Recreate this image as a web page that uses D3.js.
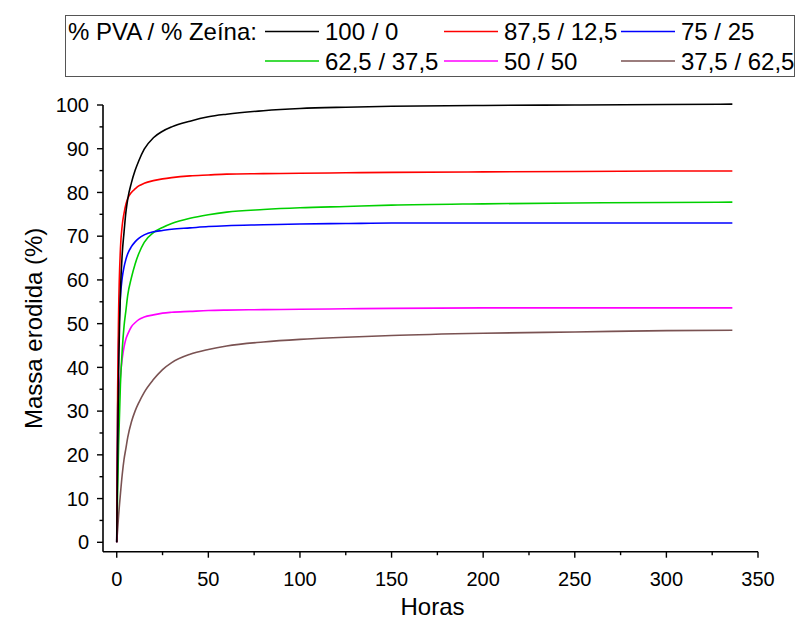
<!DOCTYPE html>
<meta charset="utf-8">
<script src="https://d3js.org/d3.v7.min.js"></script>
<style>
  body { margin: 0; background: #fff; }
  text { font-family: "Liberation Sans", Arial, sans-serif; fill: #000; }
</style>
<div id="my_dataviz"></div>
<script>
// time points (hours) shared by all curves
var horas = [0, 0.5, 1, 2, 3, 4, 5, 6, 8, 10, 12, 15, 20, 25, 30, 40, 50, 60, 80, 100, 125, 150, 200, 250, 300, 336];

// mass eroded (%) for each PVA / Zein ratio
var pva100 = [0, 22, 38, 57, 66, 71, 75.5, 78.5, 82.2, 85, 87.2, 89.9, 92.5, 94, 95, 96.3, 97.3, 97.9, 98.7, 99.2, 99.5, 99.7, 99.9, 100, 100.1, 100.2];
var pva87 = [0, 35, 52, 67, 72.5, 75.3, 77.3, 78.6, 80, 80.8, 81.5, 82.1, 82.7, 83.1, 83.4, 83.8, 84, 84.2, 84.3, 84.4, 84.5, 84.6, 84.7, 84.8, 84.9, 84.9];
var pva75 = [0, 30, 45, 56, 60.5, 63, 64.7, 66, 67.6, 68.7, 69.5, 70.3, 71, 71.3, 71.6, 71.9, 72.2, 72.4, 72.6, 72.8, 72.9, 73, 73, 73, 73, 73];
var pva62 = [0, 12, 22, 36, 44, 49.5, 53, 56.5, 60.5, 63.6, 66, 68.6, 70.8, 72, 72.9, 74.1, 74.9, 75.5, 76.1, 76.5, 76.8, 77.1, 77.4, 77.6, 77.7, 77.8];
var pva50 = [0, 20, 30, 38, 42, 44.7, 46.5, 47.6, 49.3, 50.2, 50.9, 51.5, 52, 52.4, 52.6, 52.8, 53, 53.1, 53.2, 53.3, 53.4, 53.5, 53.6, 53.6, 53.6, 53.6];
var pva37 = [0, 3, 6, 11, 15.5, 19, 21.5, 24, 27.5, 30, 31.9, 34.3, 37.2, 39.5, 41.1, 43, 44.1, 44.9, 45.8, 46.4, 46.9, 47.3, 47.8, 48.1, 48.4, 48.5];

var labels = ["100 / 0", "87,5 / 12,5", "75 / 25", "62,5 / 37,5", "50 / 50", "37,5 / 62,5"];
var colors = ["#000000", "#ff0000", "#0000ff", "#00d000", "#ff00ff", "#7a5252"];
var seriesValues = [pva100, pva87, pva75, pva62, pva50, pva37];

var xTicks = [0, 50, 100, 150, 200, 250, 300, 350];
var yTicks = [0, 10, 20, 30, 40, 50, 60, 70, 80, 90, 100];

var W = 798, H = 621;

var svg = d3.select("#my_dataviz")
  .append("svg")
    .attr("width", W)
    .attr("height", H);

// scales (axes start a bit before zero, like Origin does)
var x = d3.scaleLinear().domain([-7.5, 350]).range([103, 758]);
var y = d3.scaleLinear().domain([-2.15, 100]).range([551.7, 105]);

// minor ticks
var xMinor = d3.range(25, 350, 50);
var yMinor = d3.range(5, 100, 10);

var xAxis = svg.append("g")
  .attr("transform", "translate(0," + y.range()[0] + ")");
xAxis.append("line")
  .attr("x1", x.range()[0]).attr("x2", x.range()[1])
  .attr("stroke", "#000").attr("stroke-width", 1.6);
xAxis.selectAll(".maj").data(xTicks).enter().append("line")
  .attr("x1", function(d) { return x(d); }).attr("x2", function(d) { return x(d); })
  .attr("y1", 0).attr("y2", 6)
  .attr("stroke", "#000").attr("stroke-width", 1.4);
xAxis.selectAll(".min").data(xMinor).enter().append("line")
  .attr("x1", function(d) { return x(d); }).attr("x2", function(d) { return x(d); })
  .attr("y1", 0).attr("y2", 3.5)
  .attr("stroke", "#000").attr("stroke-width", 1.4);
xAxis.selectAll(".lab").data(xTicks).enter().append("text")
  .attr("x", function(d) { return x(d); })
  .attr("y", 34)
  .attr("text-anchor", "middle")
  .style("font-size", "20px")
  .text(function(d) { return d; });

var yAxis = svg.append("g")
  .attr("transform", "translate(" + x.range()[0] + ",0)");
yAxis.append("line")
  .attr("y1", y.range()[0]).attr("y2", y.range()[1])
  .attr("stroke", "#000").attr("stroke-width", 1.6);
yAxis.selectAll(".maj").data(yTicks).enter().append("line")
  .attr("y1", function(d) { return y(d); }).attr("y2", function(d) { return y(d); })
  .attr("x1", 0).attr("x2", -6)
  .attr("stroke", "#000").attr("stroke-width", 1.4);
yAxis.selectAll(".min").data(yMinor).enter().append("line")
  .attr("y1", function(d) { return y(d); }).attr("y2", function(d) { return y(d); })
  .attr("x1", 0).attr("x2", -3.5)
  .attr("stroke", "#000").attr("stroke-width", 1.4);
yAxis.selectAll(".lab").data(yTicks).enter().append("text")
  .attr("x", -14)
  .attr("y", function(d) { return y(d); })
  .attr("dy", "0.36em")
  .attr("text-anchor", "end")
  .style("font-size", "20px")
  .text(function(d) { return d; });

// axis titles
svg.append("text")
  .attr("x", (x.range()[0] + x.range()[1]) / 2 + 2)
  .attr("y", 615)
  .attr("text-anchor", "middle")
  .style("font-size", "24px")
  .text("Horas");

svg.append("text")
  .attr("transform", "translate(42," + ((y.range()[0] + y.range()[1]) / 2) + ") rotate(-90)")
  .attr("text-anchor", "middle")
  .style("font-size", "24px")
  .text("Massa erodida (%)");

// curves
var line = d3.line()
  .x(function(d) { return x(d[0]); })
  .y(function(d) { return y(d[1]); })
  .curve(d3.curveMonotoneX);

// draw in reverse so black sits on top
d3.range(seriesValues.length - 1, -1, -1).forEach(function(i) {
  var pts = horas.map(function(h, j) { return [h, seriesValues[i][j]]; });
  svg.append("path")
    .datum(pts)
    .attr("fill", "none")
    .attr("stroke", colors[i])
    .attr("stroke-width", 1.6)
    .attr("d", line);
});

// legend
var legend = svg.append("g");
legend.append("rect")
  .attr("x", 65.5).attr("y", 15.5)
  .attr("width", 729).attr("height", 61)
  .attr("fill", "#fff")
  .attr("stroke", "#555").attr("stroke-width", 1);
legend.append("text")
  .attr("x", 68).attr("y", 40)
  .style("font-size", "24px")
  .text("% PVA / % Zeína:");

var colX = [265, 444, 621];
var rowY = [31.5, 61];
labels.forEach(function(lab, i) {
  var cx = colX[i % 3], cy = rowY[Math.floor(i / 3)];
  legend.append("line")
    .attr("x1", cx).attr("x2", cx + 54)
    .attr("y1", cy).attr("y2", cy)
    .attr("stroke", colors[i]).attr("stroke-width", 1.6);
  legend.append("text")
    .attr("x", cx + 60).attr("y", cy + 8.5)
    .style("font-size", "24px")
    .text(lab);
});
</script>
